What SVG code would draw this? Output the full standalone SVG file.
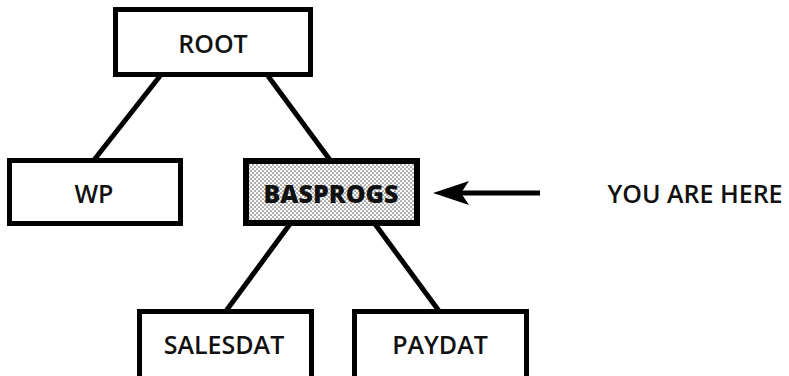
<svg xmlns="http://www.w3.org/2000/svg" width="789" height="376" viewBox="0 0 789 376">
  <style>
    .box { fill: #fff; stroke: #000; stroke-width: 5; }
    .cur { fill: url(#dots); stroke: #000; stroke-width: 6; }
    .lbl { font-family: "Open Sans", "Liberation Sans", sans-serif; font-size: 25px; font-weight: 600; fill: #111; text-anchor: middle; }
    .bold { font-weight: 800; }
    .link { stroke: #000; stroke-width: 5; fill: none; }
  </style>
  <defs>
    <!-- halftone stipple for the current directory -->
    <pattern id="dots" width="4" height="4" patternUnits="userSpaceOnUse">
      <rect width="4" height="4" fill="#fafafa"/>
      <circle cx="1" cy="1" r="0.85" fill="#6a6a6a"/>
      <circle cx="3" cy="3" r="0.85" fill="#6a6a6a"/>
    </pattern>
  </defs>

  <g id="connectors">
    <line class="link" x1="160" y1="76" x2="94" y2="160"/>
    <line class="link" x1="268" y1="76" x2="330" y2="160"/>
    <line class="link" x1="290" y1="224" x2="226" y2="311"/>
    <line class="link" x1="375" y1="224" x2="439" y2="311"/>
    <line class="link" x1="460" y1="193" x2="540" y2="193"/>
    <path d="M433,193 L469,181 L461,193 L469,205 Z" fill="#000"/>
  </g>

  <g id="root">
    <rect class="box" x="115.5" y="9.5" width="195" height="65"/>
    <text class="lbl" x="213" y="53">ROOT</text>
  </g>
  <g id="wp">
    <rect class="box" x="9.5" y="160.5" width="171" height="63"/>
    <text class="lbl" x="94" y="203">WP</text>
  </g>
  <g id="basprogs">
    <rect class="cur" x="246" y="161" width="171" height="62"/>
    <text class="lbl bold" x="331" y="203">BASPROGS</text>
  </g>
  <g id="salesdat">
    <rect class="box" x="139.5" y="311.5" width="172" height="80"/>
    <text class="lbl" x="224" y="354">SALESDAT</text>
  </g>
  <g id="paydat">
    <rect class="box" x="354.5" y="311.5" width="172" height="80"/>
    <text class="lbl" x="440" y="354">PAYDAT</text>
  </g>
  <g id="you-are-here">
    <text class="lbl" x="695" y="203">YOU ARE HERE</text>
  </g>
</svg>
